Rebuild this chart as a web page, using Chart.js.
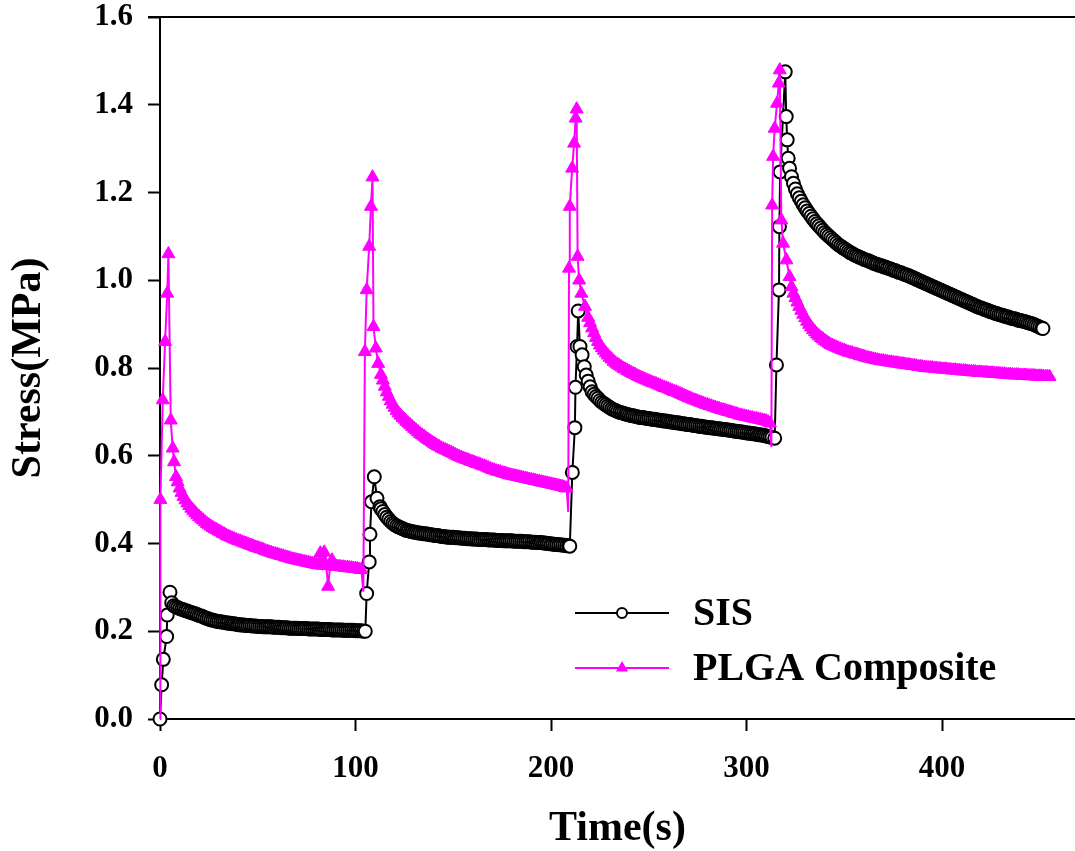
<!DOCTYPE html>
<html>
<head>
<meta charset="utf-8">
<title>Stress relaxation</title>
<script src="https://cdn.jsdelivr.net/npm/chart.js@4.4.0/dist/chart.umd.min.js"></script>
<style>
  html, body { margin: 0; padding: 0; background: #fff; }
  #wrap { width: 1075px; height: 851px; position: relative; }
</style>
</head>
<body>
<div id="wrap"><canvas id="stressChart"></canvas></div>
<script>
// SIS sample: four loading steps, each a quick rise then relaxation (1 s logging)
var sisTime = [
  0, 0.85, 1.7, 3.4, 3.7, 5.1,
  6, 7, 8, 9, 10, 11, 12, 13, 14, 15, 16, 17, 18, 19, 20, 21, 22, 23, 24, 25, 26, 27, 28, 29, 30, 31, 32, 33, 34, 35,
  36, 37, 38, 39, 40, 41, 42, 43, 44, 45, 46, 47, 48, 49, 50, 51, 52, 53, 54, 55, 56, 57, 58, 59, 60, 61, 62, 63, 64, 65,
  66, 67, 68, 69, 70, 71, 72, 73, 74, 75, 76, 77, 78, 79, 80, 81, 82, 83, 84, 85, 86, 87, 88, 89, 90, 91, 92, 93, 94, 95,
  96, 97, 98, 99, 100, 101, 102, 103, 104, 105,
  105.7, 107, 107.4, 108.2, 109.6, 111, 112.5,
  113, 114, 115, 116, 117, 118, 119, 120, 121, 122, 123, 124, 125, 126, 127, 128, 129, 130, 131, 132,
  133, 134, 135, 136, 137, 138, 139, 140, 141, 142, 143, 144, 145, 146, 147, 148, 149, 150, 151, 152,
  153, 154, 155, 156, 157, 158, 159, 160, 161, 162, 163, 164, 165, 166, 167, 168, 169, 170, 171, 172,
  173, 174, 175, 176, 177, 178, 179, 180, 181, 182, 183, 184, 185, 186, 187, 188, 189, 190, 191, 192,
  193, 194, 195, 196, 197, 198, 199, 200, 201, 202, 203, 204, 205, 206, 207, 208, 209, 209.6,
  210.9, 212.2, 212.5, 213.3, 213.9, 214.8, 215.9, 217, 218, 219, 220,
  221, 222, 223, 224, 225, 226, 227, 228, 229, 230, 231, 232, 233, 234, 235, 236, 237, 238, 239, 240,
  241, 242, 243, 244, 245, 246, 247, 248, 249, 250, 251, 252, 253, 254, 255, 256, 257, 258, 259, 260,
  261, 262, 263, 264, 265, 266, 267, 268, 269, 270, 271, 272, 273, 274, 275, 276, 277, 278, 279, 280,
  281, 282, 283, 284, 285, 286, 287, 288, 289, 290, 291, 292, 293, 294, 295, 296, 297, 298, 299, 300,
  301, 302, 303, 304, 305, 306, 307, 308, 309, 310, 311, 312, 313, 314.4,
  315.3, 316.6, 316.8, 317.2, 319.8, 320.3, 320.8, 321.3, 322,
  323, 324, 325, 326, 327, 328, 329, 330, 331, 332, 333, 334, 335, 336, 337, 338, 339, 340, 341, 342,
  343, 344, 345, 346, 347, 348, 349, 350, 351, 352, 353, 354, 355, 356, 357, 358, 359, 360, 361, 362,
  363, 364, 365, 366, 367, 368, 369, 370, 371, 372, 373, 374, 375, 376, 377, 378, 379, 380, 381, 382,
  383, 384, 385, 386, 387, 388, 389, 390, 391, 392, 393, 394, 395, 396, 397, 398, 399, 400, 401, 402,
  403, 404, 405, 406, 407, 408, 409, 410, 411, 412, 413, 414, 415, 416, 417, 418, 419, 420, 421, 422,
  423, 424, 425, 426, 427, 428, 429, 430, 431, 432, 433, 434, 435, 436, 437, 438, 439, 440, 441, 442,
  443, 444, 445, 446, 447, 448, 449, 450, 451, 451.6
];
var sisStress = [
  0, .078, .136, .188, .237, .289,
  .265, .258, .256, .254, .252, .250, .249, .247, .246, .244, .243, .241, .240, .238, .236, .235, .233, .231, .229, .228, .226, .225, .224, .223, .222, .221, .221, .220, .219, .219,
  .218, .217, .217, .216, .215, .215, .214, .214, .213, .213, .213, .212, .212, .212, .211, .211, .211, .210, .210, .210, .210, .210, .209, .209, .209, .209, .208, .208, .208, .208,
  .207, .207, .207, .207, .207, .206, .206, .206, .206, .206, .205, .205, .205, .205, .205, .205, .204, .204, .204, .204, .204, .204, .203, .203, .203, .203, .203, .203, .202, .202,
  .202, .202, .202, .202, .201, .201, .201, .201, .200, .200,
  .286, .358, .421, .495, .552, .503, .484,
  .479, .473, .466, .460, .455, .450, .446, .443, .440, .438, .436, .434, .432, .430, .429, .428, .427, .426, .425, .424,
  .424, .423, .422, .422, .421, .420, .420, .419, .418, .418, .417, .416, .416, .415, .415, .414, .414, .414, .413, .413,
  .413, .412, .412, .412, .411, .411, .411, .410, .410, .410, .409, .409, .409, .409, .409, .408, .408, .408, .408, .407,
  .407, .407, .407, .406, .406, .406, .406, .406, .405, .405, .405, .405, .405, .404, .404, .404, .404, .403, .403, .403,
  .402, .402, .402, .401, .401, .400, .400, .399, .399, .398, .398, .397, .397, .396, .396, .395, .395, .394,
  .562, .664, .756, .849, .930, .849, .830, .803, .784, .770, .757,
  .746, .740, .735, .731, .726, .722, .719, .716, .713, .710, .707, .705, .703, .701, .699, .698, .697, .695, .694, .693,
  .692, .691, .690, .689, .688, .687, .687, .686, .685, .685, .684, .683, .683, .682, .681, .681, .680, .679, .679, .678,
  .677, .677, .676, .675, .675, .674, .673, .673, .672, .671, .671, .670, .669, .669, .668, .667, .667, .666, .665, .665,
  .664, .664, .663, .662, .662, .661, .661, .660, .660, .659, .658, .658, .657, .656, .656, .655, .654, .654, .653, .652,
  .652, .651, .650, .650, .649, .648, .648, .647, .646, .645, .644, .643, .642, .640,
  .807, .978, 1.122, 1.247, 1.475, 1.373, 1.320, 1.278, 1.255,
  1.236, 1.221, 1.208, 1.197, 1.188, 1.180, 1.172, 1.165, 1.158, 1.152, 1.146, 1.140, 1.134, 1.129, 1.124, 1.119, 1.114, 1.109, 1.105, 1.101,
  1.097, 1.093, 1.089, 1.085, 1.081, 1.078, 1.075, 1.072, 1.069, 1.066, 1.063, 1.061, 1.058, 1.056, 1.054, 1.052, 1.050, 1.048, 1.046, 1.045,
  1.043, 1.041, 1.039, 1.037, 1.036, 1.034, 1.033, 1.031, 1.030, 1.028, 1.027, 1.025, 1.023, 1.022, 1.020, 1.018, 1.017, 1.015, 1.013, 1.012,
  1.010, 1.008, 1.006, 1.004, 1.002, 1.000, .998, .996, .994, .992, .990, .988, .986, .984, .982, .980, .978, .976, .974, .972,
  .970, .968, .966, .964, .962, .960, .958, .956, .954, .952, .950, .948, .946, .944, .942, .940, .938, .937, .935, .933,
  .932, .930, .928, .927, .925, .924, .922, .921, .920, .918, .917, .916, .914, .913, .912, .911, .909, .908, .907, .906,
  .905, .903, .902, .901, .899, .897, .895, .893, .891, .890
];

// PLGA composite: same protocol, sharper overshoot at each step
var plgaTime = [
  0, 0.2, 1.4, 2.6, 3.7, 4.3, 5.5, 6.5, 7.2, 8.2,
  9, 10, 11, 12, 13, 14, 15, 16, 17, 18, 19, 20, 21, 22, 23, 24, 25, 26, 27, 28, 29, 30, 31, 32, 33, 34, 35, 36, 37, 38,
  39, 40, 41, 42, 43, 44, 45, 46, 47, 48, 49, 50, 51, 52, 53, 54, 55, 56, 57, 58, 59, 60, 61, 62, 63, 64, 65, 66, 67, 68,
  69, 70, 71, 72, 73, 74, 75, 76, 77, 78, 79, 80, 81, 82, 83, 84, 85, 86, 87, 88, 89, 90, 91, 92, 93, 94, 95, 96, 97, 98,
  99, 100, 101, 102, 103,
  104, 104.8, 105.7, 107, 107.9, 108.7, 109.2, 110.4, 111.6,
  113, 114, 115, 116, 117, 118, 119, 120, 121, 122, 123, 124, 125, 126, 127, 128, 129, 130, 131, 132,
  133, 134, 135, 136, 137, 138, 139, 140, 141, 142, 143, 144, 145, 146, 147, 148, 149, 150, 151, 152,
  153, 154, 155, 156, 157, 158, 159, 160, 161, 162, 163, 164, 165, 166, 167, 168, 169, 170, 171, 172,
  173, 174, 175, 176, 177, 178, 179, 180, 181, 182, 183, 184, 185, 186, 187, 188, 189, 190, 191, 192,
  193, 194, 195, 196, 197, 198, 199, 200, 201, 202, 203, 204, 205, 206, 207, 208,
  208.8, 209.2, 209.6, 210.8, 211.8, 212.6, 213.1, 213.6, 214.4, 215.5, 217.4,
  219, 220, 221, 222, 223, 224, 225, 226, 227, 228, 229, 230, 231, 232, 233, 234, 235, 236, 237, 238,
  239, 240, 241, 242, 243, 244, 245, 246, 247, 248, 249, 250, 251, 252, 253, 254, 255, 256, 257, 258,
  259, 260, 261, 262, 263, 264, 265, 266, 267, 268, 269, 270, 271, 272, 273, 274, 275, 276, 277, 278,
  279, 280, 281, 282, 283, 284, 285, 286, 287, 288, 289, 290, 291, 292, 293, 294, 295, 296, 297, 298,
  299, 300, 301, 302, 303, 304, 305, 306, 307, 308, 309, 310, 311, 312,
  312.7, 313.1, 313.6, 314.4, 315.6, 316.5, 317.0, 317.8, 318.7, 320.4, 322,
  323, 324, 325, 326, 327, 328, 329, 330, 331, 332, 333, 334, 335, 336, 337, 338, 339, 340, 341, 342,
  343, 344, 345, 346, 347, 348, 349, 350, 351, 352, 353, 354, 355, 356, 357, 358, 359, 360, 361, 362,
  363, 364, 365, 366, 367, 368, 369, 370, 371, 372, 373, 374, 375, 376, 377, 378, 379, 380, 381, 382,
  383, 384, 385, 386, 387, 388, 389, 390, 391, 392, 393, 394, 395, 396, 397, 398, 399, 400, 401, 402,
  403, 404, 405, 406, 407, 408, 409, 410, 411, 412, 413, 414, 415, 416, 417, 418, 419, 420, 421, 422,
  423, 424, 425, 426, 427, 428, 429, 430, 431, 432, 433, 434, 435, 436, 437, 438, 439, 440, 441, 442,
  443, 444, 445, 446, 447, 448, 449, 450, 451, 452, 453, 454, 455
];
var plgaStress = [
  0, .50, .727, .86, .97, 1.06, .681, .617, .586, .552,
  .540, .526, .516, .507, .499, .492, .486, .480, .475, .470, .465, .461, .457, .453, .449, .445, .442, .439, .436, .433, .431, .428, .426, .423, .421, .418, .416, .414, .412, .410,
  .408, .406, .405, .403, .401, .400, .398, .396, .395, .393, .391, .390, .388, .387, .385, .383, .382, .380, .379, .377, .376, .375, .373, .372, .371, .369, .368, .367, .365, .364,
  .363, .362, .361, .360, .359, .358, .357, .356, .355, .354, .353, .352, .351, .378, .350, .380, .350, .302, .349, .362, .348, .348, .347, .347, .346, .346, .345, .345, .344, .344,
  .343, .343, .342, .341, .340,
  .29, .837, .978, 1.077, 1.168, 1.235, .894, .845, .81,
  .785, .772, .758, .745, .735, .725, .717, .710, .703, .697, .692, .687, .683, .678, .674, .670, .666, .662, .658, .654,
  .650, .647, .644, .640, .637, .634, .631, .628, .625, .622, .620, .617, .615, .613, .611, .609, .607, .605, .602, .600,
  .598, .596, .594, .592, .591, .589, .587, .586, .584, .582, .581, .579, .577, .576, .574, .572, .570, .568, .567, .565,
  .564, .563, .561, .560, .559, .557, .556, .555, .554, .553, .552, .551, .550, .549, .548, .547, .546, .545, .544, .543,
  .542, .541, .540, .539, .538, .537, .536, .535, .534, .533, .532, .531, .530, .529, .527, .526,
  .472, 1.027, 1.168, 1.255, 1.312, 1.369, 1.39, 1.054, 1.0, .97, .94,
  .915, .903, .891, .880, .869, .860, .852, .846, .840, .834, .829, .824, .820, .815, .811, .808, .805, .802, .799, .797,
  .794, .792, .789, .787, .785, .782, .780, .778, .776, .774, .772, .770, .768, .766, .765, .763, .761, .759, .757, .755,
  .754, .752, .750, .748, .746, .745, .743, .741, .739, .737, .735, .733, .731, .729, .727, .726, .724, .722, .721, .719,
  .717, .716, .714, .713, .711, .710, .708, .707, .705, .704, .703, .701, .700, .699, .697, .696, .695, .693, .692, .691,
  .690, .689, .688, .687, .686, .685, .684, .683, .682, .681, .680, .679, .677, .674,
  .62, 1.171, 1.282, 1.346, 1.403, 1.449, 1.479, 1.137, 1.084, 1.046, 1.008,
  .985, .970, .960, .950, .940, .931, .922, .914, .906, .899, .893, .887, .882, .877, .873, .869, .866, .862, .859, .856,
  .853, .851, .849, .847, .845, .843, .841, .840, .838, .836, .835, .834, .832, .831, .830, .828, .827, .826, .824, .823,
  .822, .821, .820, .819, .818, .817, .816, .816, .815, .814, .813, .813, .812, .811, .811, .810, .809, .809, .808, .807,
  .807, .806, .805, .805, .804, .803, .803, .802, .801, .801, .800, .800, .800, .799, .799, .798, .798, .797, .797, .797,
  .796, .796, .795, .795, .795, .794, .794, .793, .793, .793, .792, .792, .791, .791, .791, .790, .790, .790, .789, .789,
  .789, .788, .788, .788, .787, .787, .787, .786, .786, .786, .785, .785, .785, .784, .784, .784, .784, .783, .783, .783,
  .783, .782, .782, .782, .782, .781, .781, .781, .781, .780, .780, .780, .780
];
// unloaded readings just before each step carry no marker
var plgaBareTimes = [0, 104, 208.8, 312.7];

var seriesNames = ['SIS', 'PLGA Composite'];
var timeTicks = [0, 100, 200, 300, 400];
var stressTicks = [0, 0.2, 0.4, 0.6, 0.8, 1.0, 1.2, 1.4, 1.6];

function toPoints(xs, ys) {
  return xs.map(function (x, i) { return { x: x, y: ys[i] }; });
}

var serif = "'Liberation Serif', 'Times New Roman', serif";
Chart.defaults.font.family = serif;
Chart.defaults.font.weight = 'bold';
Chart.defaults.color = '#000';

// top frame line and the hand-placed legend inside the plot
var framePlugin = {
  id: 'frame',
  afterDraw: function (chart) {
    var ctx = chart.ctx, a = chart.chartArea;
    ctx.save();
    ctx.strokeStyle = '#000';
    ctx.lineWidth = 2;
    ctx.beginPath();
    ctx.moveTo(a.left - 12, a.top);
    ctx.lineTo(chart.width, a.top);
    ctx.stroke();

    var x0 = a.left + 415, x1 = a.left + 509, xm = (x0 + x1) / 2;
    var rows = [a.top + 596, a.top + 651];
    chart.data.datasets.forEach(function (ds, i) {
      var y = rows[i];
      ctx.strokeStyle = ds.borderColor;
      ctx.lineWidth = 2;
      ctx.beginPath();
      ctx.moveTo(x0, y);
      ctx.lineTo(x1, y);
      ctx.stroke();
      ctx.beginPath();
      if (ds.pointStyle === 'triangle') {
        var r = 7;
        ctx.moveTo(xm, y - r);
        ctx.lineTo(xm + r * 0.866, y + r * 0.5);
        ctx.lineTo(xm - r * 0.866, y + r * 0.5);
        ctx.closePath();
        ctx.fillStyle = ds.pointBackgroundColor;
        ctx.fill();
      } else {
        ctx.arc(xm, y, 5, 0, Math.PI * 2);
        ctx.fillStyle = '#fff';
        ctx.fill();
        ctx.lineWidth = 2;
        ctx.stroke();
      }
      ctx.fillStyle = '#000';
      ctx.font = 'bold 40px ' + serif;
      ctx.textAlign = 'left';
      ctx.textBaseline = 'middle';
      ctx.fillText(ds.label, x1 + 24, y + 2);
    });
    ctx.restore();
  }
};

new Chart(document.getElementById('stressChart'), {
  type: 'line',
  data: {
    datasets: [
      {
        label: seriesNames[0],
        data: toPoints(sisTime, sisStress),
        order: 1,
        borderColor: '#000',
        borderWidth: 2,
        pointStyle: 'circle',
        pointRadius: 6.5,
        pointBorderWidth: 2,
        pointBackgroundColor: '#fff',
        pointBorderColor: '#000',
        clip: false
      },
      {
        label: seriesNames[1],
        data: toPoints(plgaTime, plgaStress),
        order: 0,
        borderColor: '#ff00ff',
        borderWidth: 2,
        pointStyle: 'triangle',
        pointRadius: function (c) {
          var p = c.raw;
          return p && plgaBareTimes.indexOf(p.x) >= 0 ? 0 : 7.5;
        },
        pointBorderWidth: 1,
        pointBackgroundColor: '#ff00ff',
        pointBorderColor: '#ff00ff',
        clip: false
      }
    ]
  },
  options: {
    responsive: true,
    maintainAspectRatio: false,
    animation: false,
    events: [],
    layout: { autoPadding: false, padding: { top: 17, right: 0, left: 0, bottom: 0 } },
    plugins: { legend: { display: false }, tooltip: { enabled: false } },
    elements: { line: { tension: 0 } },
    scales: {
      x: {
        type: 'linear',
        min: 0,
        max: 468,
        afterBuildTicks: function (scale) {
          scale.ticks = timeTicks.map(function (v) { return { value: v }; });
        },
        afterFit: function (scale) {
          scale.height = 132;
          scale.paddingLeft = 0;
          scale.paddingRight = 0;
        },
        grid: { drawOnChartArea: false, drawTicks: true, tickLength: 12, tickWidth: 2, tickColor: '#000' },
        border: { display: true, color: '#000', width: 2 },
        ticks: { font: { size: 31, weight: 'bold' }, padding: 19, maxRotation: 0 },
        title: { display: true, text: 'Time(s)', font: { size: 42, weight: 'bold', lineHeight: 1 }, padding: { top: 0, bottom: 1 } }
      },
      y: {
        min: 0,
        max: 1.6,
        afterBuildTicks: function (scale) {
          scale.ticks = stressTicks.map(function (v) { return { value: v }; });
        },
        afterFit: function (scale) {
          scale.width = 160;
          scale.paddingTop = 0;
          scale.paddingBottom = 0;
        },
        grid: { drawOnChartArea: false, drawTicks: true, tickLength: 12, tickWidth: 2, tickColor: '#000' },
        border: { display: true, color: '#000', width: 2 },
        ticks: {
          font: { size: 31, weight: 'bold' },
          padding: 15,
          callback: function (v) { return v.toFixed(1); }
        },
        title: { display: true, text: 'Stress(MPa)', font: { size: 42, weight: 'bold', lineHeight: 1 }, padding: { top: 8, bottom: 0 } }
      }
    }
  },
  plugins: [framePlugin]
});
</script>
</body>
</html>
